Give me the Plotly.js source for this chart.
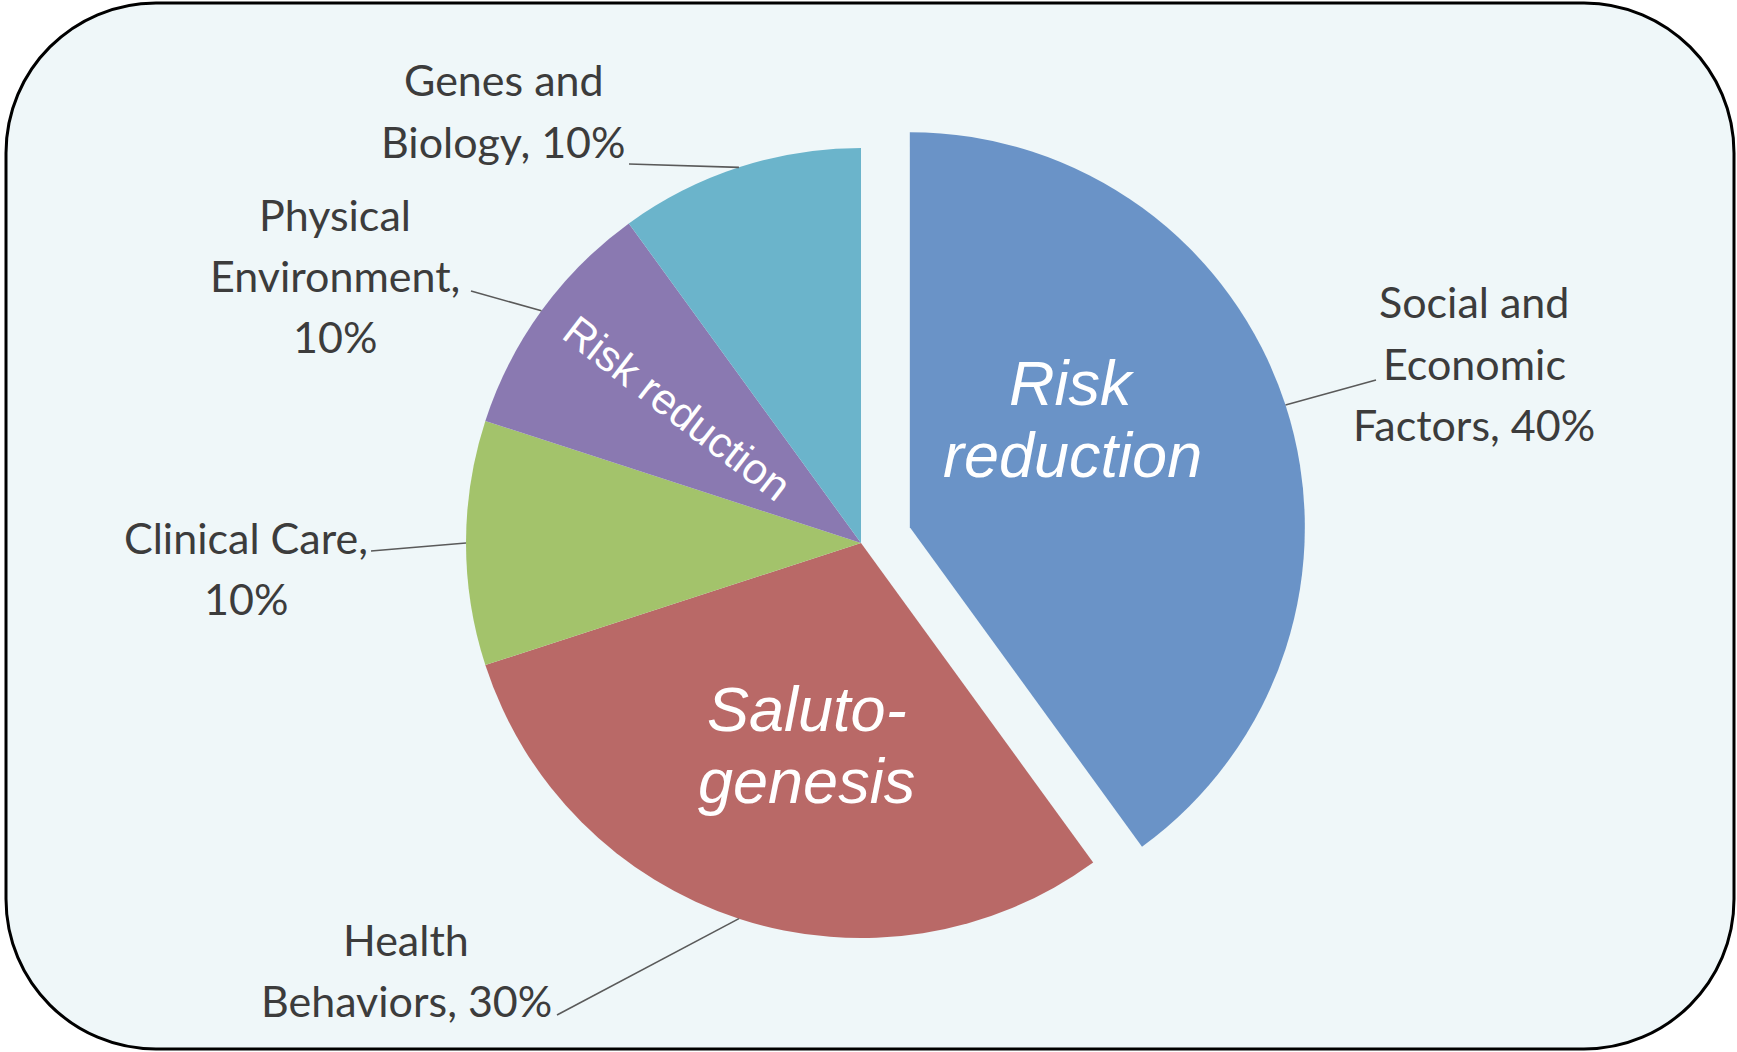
<!DOCTYPE html>
<html>
<head>
<meta charset="utf-8">
<script src="https://cdn.plot.ly/plotly-3.0.1.min.js"></script>
<style>
html,body{margin:0;padding:0;background:#ffffff;}
#chart{width:1737px;height:1052px;}
</style>
</head>
<body>
<div id="chart"></div>
<script>
// ---- data ----
const categories = ["Social and Economic Factors", "Health Behaviors", "Clinical Care", "Physical Environment", "Genes and Biology"];
const shares = [40, 30, 10, 10, 10];
const sliceColors = ["#6a93c7", "#b96967", "#a3c36b", "#8a79b1", "#6bb4cb"];
const pulls = [0.13, 0, 0, 0, 0];
// words per line for each outside label
const labelWordsPerLine = [[2, 1, 2], [1, 2], [2, 1], [1, 1, 1], [2, 2]];
const insideTexts = ["<i>Risk</i>", "<i>reduction</i>", "<i>Saluto-</i>", "<i>genesis</i>", "Risk reduction"];

// ---- layout geometry (pixels) ----
const W = 1737, H = 1052;
const CX = 861, CY = 543, R = 395;
const lineGap = 61;
const labelPos = [[1474, 302], [406, 939], [246, 537], [335, 214], [504, 80]];
const leaderTail = [[1376, 380], [557, 1015], [371, 551], [471, 291], [629, 164]];
const insidePos = [[1072, 383], [1072, 455], [807, 709], [806, 781], [677, 408]];
const insideSize = [63, 63, 63, 63, 43];
const insideAngle = [0, 0, 0, 0, 37.5];

const px = x => x / W;
const py = y => 1 - y / H;

const maxPull = Math.max(...pulls);
const half = R * (1 + maxPull);

const trace = {
  type: "pie",
  labels: categories,
  values: shares,
  sort: false,
  direction: "clockwise",
  rotation: 0,
  pull: pulls,
  marker: {colors: sliceColors, line: {width: 0}},
  textinfo: "none",
  hoverinfo: "label+percent",
  showlegend: false,
  domain: {x: [px(CX - half), px(CX + half)], y: [py(CY + half), py(CY - half)]}
};

const annotations = [];
const shapes = [];

// rounded background frame
const L = 6, T = 3, Rt = 1734, B = 1049, r = 150, k = 0.5523 * r;
const P = (x, y) => px(x) + "," + py(y);
const framePath = "M" + P(L + r, T) + " L" + P(Rt - r, T) +
  " C" + P(Rt - r + k, T) + " " + P(Rt, T + r - k) + " " + P(Rt, T + r) +
  " L" + P(Rt, B - r) +
  " C" + P(Rt, B - r + k) + " " + P(Rt - r + k, B) + " " + P(Rt - r, B) +
  " L" + P(L + r, B) +
  " C" + P(L + r - k, B) + " " + P(L, B - r + k) + " " + P(L, B - r) +
  " L" + P(L, T + r) +
  " C" + P(L, T + r - k) + " " + P(L + r - k, T) + " " + P(L + r, T) + " Z";
shapes.push({type: "path", xref: "paper", yref: "paper", path: framePath,
  fillcolor: "#eff7f9", line: {color: "#000000", width: 3}, layer: "below"});

// outside labels and leader lines
const total = shares.reduce((a, b) => a + b, 0);
let cum = 0;
shares.forEach((v, i) => {
  const mid = (cum + v / 2) / total * 2 * Math.PI;
  cum += v;
  const rr = R * (1 + pulls[i]);
  const hx = CX + rr * Math.sin(mid);
  const hy = CY - rr * Math.cos(mid);
  shapes.push({type: "line", xref: "paper", yref: "paper",
    x0: px(leaderTail[i][0]), y0: py(leaderTail[i][1]), x1: px(hx), y1: py(hy),
    line: {color: "#5a5a5a", width: 1.6}, layer: "above"});

  const words = (categories[i] + ", " + v + "%").split(" ");
  let w = 0;
  labelWordsPerLine[i].forEach((n, j) => {
    const line = words.slice(w, w + n).join(" ");
    w += n;
    annotations.push({xref: "paper", yref: "paper",
      x: px(labelPos[i][0]), y: py(labelPos[i][1] + j * lineGap),
      xanchor: "center", yanchor: "middle", showarrow: false, text: line,
      font: {family: "Lato, 'Open Sans', sans-serif", size: 43, color: "#3c3c3c"}});
  });
});

// inside texts
insideTexts.forEach((t, i) => {
  annotations.push({xref: "paper", yref: "paper",
    x: px(insidePos[i][0]), y: py(insidePos[i][1]),
    xanchor: "center", yanchor: "middle", showarrow: false, text: t,
    textangle: insideAngle[i],
    font: {family: "'Liberation Sans', Arial, sans-serif", size: insideSize[i], color: "#ffffff"}});
});

const layout = {
  width: W, height: H,
  margin: {l: 0, r: 0, t: 0, b: 0, pad: 0},
  paper_bgcolor: "#ffffff",
  plot_bgcolor: "rgba(0,0,0,0)",
  showlegend: false,
  shapes: shapes,
  annotations: annotations
};

Plotly.newPlot("chart", [trace], layout, {displayModeBar: false, responsive: false});
</script>
</body>
</html>
